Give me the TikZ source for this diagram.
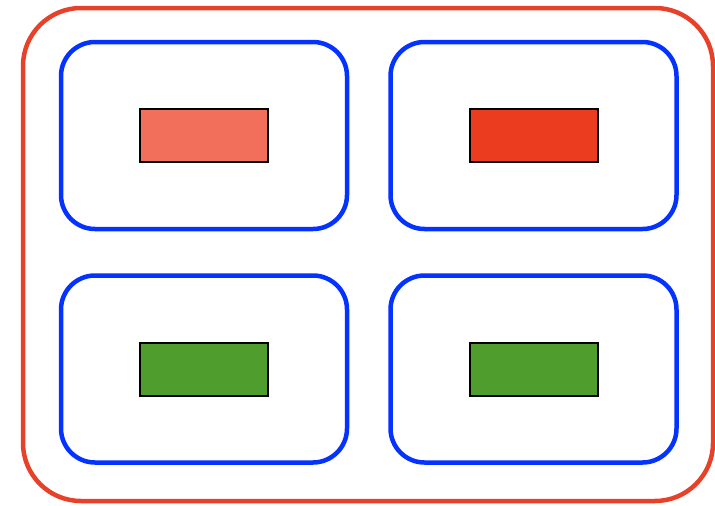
\documentclass[tikz,border=0pt]{standalone}
\usepackage{tikz}
\usetikzlibrary{positioning}
\definecolor{rim}     {HTML}{E8412A}
\definecolor{frame}   {HTML}{0433FF}
\definecolor{salmon}  {HTML}{F2705B}
\definecolor{scarlet} {HTML}{EB3C20}
\definecolor{leaf}    {HTML}{4F9D2D}
\tikzset{
  % --- nodes
  outer/.style = {draw=rim, line width=4.5pt, rounded corners=58pt,
                  minimum width=690pt, minimum height=493pt, inner sep=0pt},
  group/.style = {draw=frame, line width=4.5pt, rounded corners=34pt,
                  minimum width=286pt, minimum height=187pt, inner sep=0pt},
  cell/.style  = {draw=black, line width=2pt, minimum width=128pt,
                  minimum height=53pt, inner sep=0pt},
  cola/.style  = {cell, fill=salmon},
  colb/.style  = {cell, fill=scarlet},
  colc/.style  = {cell, fill=leaf},
}
\begin{document}
\begin{tikzpicture}[x=1pt,y=-1pt]
  \useasboundingbox (0,0) rectangle (715,506);
  \node[outer] (box) at (368,254.5) {};
  \node[group] (ga) at (204,135.5) {};
  \node[group] (gb) at (533.5,135.5) {};
  \node[group] (gc) at (204,369) {};
  \node[group] (gd) at (533.5,369) {};
  \node[cola] (ca) at (ga) {};
  \node[colb] (cb) at (gb) {};
  \node[colc] (cc) at (gc.center) {};
  \node[colc] (cd) at (gd.center) {};
\end{tikzpicture}
\end{document}
